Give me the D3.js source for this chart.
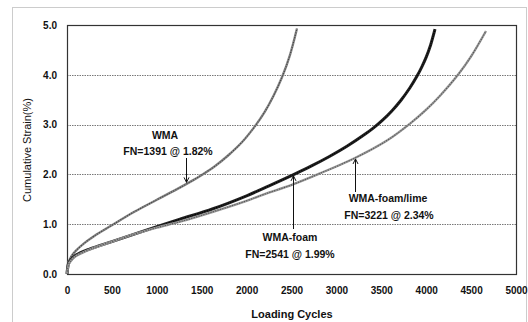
<!DOCTYPE html>
<html><head><meta charset="utf-8">
<script src="https://cdn.jsdelivr.net/npm/d3@7"></script>
<style>
html,body{margin:0;padding:0;background:#fff;}
svg{display:block;font-family:"Liberation Sans",Arial,sans-serif;}
</style></head>
<body><svg id="c" width="528" height="322"></svg>
<script>
const xTicks = [0,500,1000,1500,2000,2500,3000,3500,4000,4500,5000];
const yTicks = [0,1,2,3,4,5];
const wmaCycles = [0,10,50,100,200,300,500,750,1000,1200,1391,1510,1650,1800,1950,2094,2200,2300,2394,2480,2561];
const wmaStrain = [0,0.2,0.36,0.47,0.63,0.76,0.98,1.25,1.49,1.68,1.87,2.0,2.17,2.39,2.65,2.97,3.25,3.58,3.95,4.38,4.93];
const foamCycles = [0,20,50,100,250,500,750,1000,1258,1626,2000,2250,2517,2717,2917,3117,3317,3417,3517,3617,3717,3817,3898,3950,4000,4050,4098];
const foamStrain = [0,0.22,0.3,0.38,0.5,0.65,0.8,0.95,1.1,1.31,1.57,1.77,1.99,2.165,2.355,2.565,2.805,2.94,3.095,3.275,3.485,3.735,3.975,4.155,4.355,4.605,4.915];
const limeCycles = [0,20,50,100,250,500,750,1000,1258,1626,2000,2194,2517,2817,3207,3563,3820,4000,4154,4354,4500,4666];
const limeStrain = [0,0.2,0.28,0.36,0.49,0.65,0.8,0.93,1.05,1.25,1.47,1.6,1.8,2.02,2.33,2.68,3.02,3.3,3.58,4.0,4.37,4.88];
const seriesNames = ["WMA","WMA-foam","WMA-foam/lime"];

const svg = d3.select("#c");
const x = d3.scaleLinear().domain([0,5000]).range([67,516]);
const y = d3.scaleLinear().domain([0,5]).range([274,25]);

// outer frame
svg.append("rect").attr("x",12.5).attr("y",7.5).attr("width",514).attr("height",330)
  .attr("fill","none").attr("stroke","#999").attr("stroke-width",1).attr("stroke-dasharray","1,1");

// gridlines
svg.append("g").selectAll("line").data(yTicks.filter(d=>d>0&&d<5)).join("line")
  .attr("x1",x(0)).attr("x2",x(5000)).attr("y1",d=>Math.round(y(d))+0.5).attr("y2",d=>Math.round(y(d))+0.5)
  .attr("stroke","#555").attr("stroke-width",0.8).attr("stroke-dasharray","1.5,1");

// plot frame
svg.append("rect").attr("x",x(0)+0.5).attr("y",y(5)+0.5).attr("width",x(5000)-x(0)).attr("height",y(0)-y(5))
  .attr("fill","none").attr("stroke","#333").attr("stroke-width",1.2);

// axes
const xAxis = d3.axisBottom(x).tickValues(xTicks).tickSize(0).tickPadding(13).tickFormat(d3.format("d"));
const gx = svg.append("g").attr("transform",`translate(0,${y(0)})`).call(xAxis);
const yAxis = d3.axisLeft(y).tickValues(yTicks).tickSize(0).tickPadding(10).tickFormat(d3.format(".1f"));
const gy = svg.append("g").attr("transform",`translate(${x(0)},0)`).call(yAxis);
[gx,gy].forEach(g=>{
  g.select(".domain").remove();
  g.selectAll("text").attr("font-size",10).attr("font-weight","bold").attr("fill","#111")
   .attr("font-family","'Liberation Sans',Arial,sans-serif");
});

// axis titles
svg.append("text").attr("x",292).attr("y",318).attr("text-anchor","middle")
  .attr("font-size",11).attr("font-weight","bold").attr("fill","#111").text("Loading Cycles");
svg.append("text").attr("transform","translate(31,150) rotate(-90)").attr("text-anchor","middle")
  .attr("font-size",11).attr("fill","#111").text("Cumulative Strain(%)");

// curves
const line = d3.line().x(d=>x(d[0])).y(d=>y(d[1])).curve(d3.curveCatmullRom.alpha(0.5));
const series = [
  {name:seriesNames[0], pts:d3.zip(wmaCycles,wmaStrain), color:"#888", dot:"#444", w:2.4},
  {name:seriesNames[1], pts:d3.zip(foamCycles,foamStrain), color:"#222", dot:"#000", w:3},
  {name:seriesNames[2], pts:d3.zip(limeCycles,limeStrain), color:"#999", dot:"#555", w:2.4}
];
series.forEach(s=>{
  svg.append("path").attr("d",line(s.pts)).attr("fill","none").attr("stroke",s.color).attr("stroke-width",s.w);
  svg.append("path").attr("d",line(s.pts)).attr("fill","none").attr("stroke",s.dot).attr("stroke-width",1.1)
    .attr("stroke-dasharray","1.2,1.3");
});

// annotations
function label(t,cx,by){
  svg.append("text").attr("x",cx).attr("y",by).attr("text-anchor","middle")
    .attr("font-size",10.5).attr("font-weight","bold").attr("fill","#111").text(t);
}
function arrow(xv,y1,y2){
  const px = Math.round(x(xv))+0.5;
  svg.append("line").attr("x1",px).attr("x2",px).attr("y1",y1).attr("y2",y2).attr("stroke","#111").attr("stroke-width",1);
  const dir = y2>y1?1:-1;
  svg.append("path").attr("d",`M${px-2.5},${y2-dir*5}L${px},${y2}L${px+2.5},${y2-dir*5}`)
    .attr("fill","none").attr("stroke","#111").attr("stroke-width",1);
}
label("WMA",165,139);
label("FN=1391 @ 1.82%",168,155);
arrow(1325,158,y(1.84));
label("WMA-foam",290,241);
label("FN=2541 @ 1.99%",290,258);
arrow(2517,229,y(1.99)+1);
label("WMA-foam/lime",388,202);
label("FN=3221 @ 2.34%",389,219);
arrow(3207,192,y(2.33)+1);
</script></body></html>
